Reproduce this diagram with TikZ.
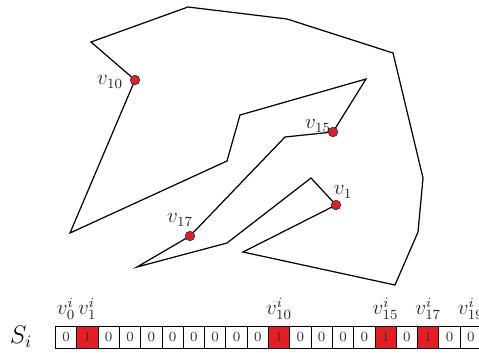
\documentclass[tikz,border=0pt]{standalone}
\usepackage{tikz}
\usetikzlibrary{positioning}
\definecolor{dotred}{RGB}{230,30,36}

\begin{document}
\begin{tikzpicture}[
    x=0.02cm, y=-0.02cm,
    edge/.style={line width=0.7pt, line join=miter},
    pt/.style={circle, draw=black!80, line width=0.4pt, fill=dotred, inner sep=0pt, minimum size=0.19cm},
    lab/.style={font=\large, inner sep=0pt, text=black!85},
    cell/.style={draw, line width=0.5pt, minimum width=21.3*0.02cm, minimum height=22*0.02cm,
                 inner sep=0pt, font=\footnotesize, text=black!80, anchor=west},
    hit/.style={cell, fill=dotred}
]
\useasboundingbox (0,0) rectangle (479,352);

% outline vertices
\coordinate (p10) at (135,80);
\coordinate (a) at (91,42);
\coordinate (b) at (188,7);
\coordinate (c) at (287,19);
\coordinate (d) at (393,53);
\coordinate (e) at (423,178);
\coordinate (f) at (418,232);
\coordinate (g) at (395,285);
\coordinate (h) at (243,252);
\coordinate (p1) at (336,205);
\coordinate (k) at (311,178);
\coordinate (l) at (227,243);
\coordinate (m) at (137,267);
\coordinate (p17) at (190,236);
\coordinate (n) at (285,137);
\coordinate (p15) at (333,132);
\coordinate (o) at (366,79);
\coordinate (q) at (240,115);
\coordinate (r) at (227,161);
\coordinate (s) at (70,233);

\draw[edge] (p10) -- (a) -- (b) -- (c) -- (d) -- (e) -- (f) -- (g) -- (h) -- (p1) -- (k)
    -- (l) -- (m) -- (p17) -- (n) -- (p15) -- (o) -- (q) -- (r) -- (s) -- cycle;

\node[pt] (v10) at (p10) {};
\node[pt] (v1) at (p1) {};
\node[pt] (v15) at (p15) {};
\node[pt] (v17) at (p17) {};

\node[lab] (l10) at (110,82) {$v_{10}$};
\node[lab] (l15) at (318,126) {$v_{15}$};
\node[lab] (l1) at (343,192) {$v_{1}$};
\node[lab] (l17) at (180,220) {$v_{17}$};

% bit string
\node[font=\Large, inner sep=0pt] (si) at (21,337) {$S_i$};
\foreach \i in {0,...,19}{
  \ifnum\i=1 \def\st{hit}\def\bit{1}\else
  \ifnum\i=10 \def\st{hit}\def\bit{1}\else
  \ifnum\i=15 \def\st{hit}\def\bit{1}\else
  \ifnum\i=17 \def\st{hit}\def\bit{1}\else
  \def\st{cell}\def\bit{0}\fi\fi\fi\fi
  \node[\st] (c\i) at ({55+21.3*\i},337) {\bit};
}

\node[lab, above=3pt of c0] {$v_{0}^{i}$};
\node[lab, above=3pt of c1] {$v_{1}^{i}$};
\node[lab, above=3pt of c10] {$v_{10}^{i}$};
\node[lab, above=3pt of c15] {$v_{15}^{i}$};
\node[lab, above=3pt of c17] {$v_{17}^{i}$};
\node[lab, above=3pt of c19] {$v_{19}^{i}$};
\end{tikzpicture}
\end{document}
